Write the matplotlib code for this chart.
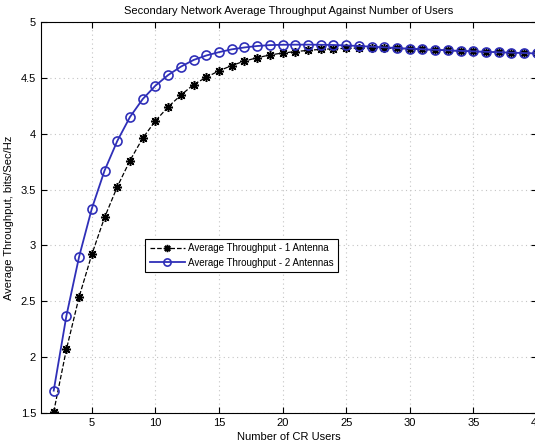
import matplotlib
matplotlib.use("Agg")
import matplotlib.pyplot as plt
from matplotlib.ticker import FormatStrFormatter

# Data
users = list(range(2, 41))
thr_1ant = [1.51, 2.07, 2.54, 2.92, 3.25, 3.525, 3.76, 3.96, 4.115, 4.24,
            4.345, 4.44, 4.505, 4.563, 4.61, 4.65, 4.68, 4.705, 4.722, 4.735,
            4.746, 4.755, 4.76, 4.764, 4.766, 4.767, 4.766, 4.763, 4.759, 4.755,
            4.75, 4.746, 4.741, 4.737, 4.733, 4.729, 4.725, 4.722, 4.718]
thr_2ant = [1.70, 2.37, 2.90, 3.33, 3.67, 3.935, 4.15, 4.31, 4.43, 4.525,
            4.60, 4.66, 4.70, 4.73, 4.755, 4.772, 4.785, 4.793, 4.796, 4.797,
            4.797, 4.796, 4.794, 4.79, 4.785, 4.779, 4.773, 4.767, 4.761, 4.756,
            4.751, 4.746, 4.741, 4.737, 4.733, 4.729, 4.725, 4.722, 4.718]
labels = ["Average Throughput - 1 Antenna", "Average Throughput - 2 Antennas"]

plt.rcParams['font.family'] = ['Liberation Sans', 'DejaVu Sans']
plt.rcParams['font.size'] = 8

fig = plt.figure(figsize=(5.35, 4.45), dpi=100)
ax = fig.add_axes([0.0766, 0.0719, 0.927, 0.8787])

# MATLAB style '*' marker: 8-arm asterisk
ax.plot(users, thr_1ant, color='black', linestyle='--', linewidth=0.9,
        marker=(8, 2, 0), markersize=6.5, markeredgewidth=1.1, label=labels[0])
ax.plot(users, thr_2ant, color='#2f2fb8', linestyle='-', linewidth=1.3,
        marker='o', markersize=6.5, markerfacecolor='none',
        markeredgewidth=1.2, label=labels[1])

ax.set_xlim(1, 40)
ax.set_ylim(1.5, 5)
ax.set_xticks(range(5, 41, 5))
ax.set_yticks([1.5, 2, 2.5, 3, 3.5, 4, 4.5, 5])
ax.yaxis.set_major_formatter(FormatStrFormatter('%g'))
ax.tick_params(direction='in', top=True, right=True, length=4, labelsize=8)
ax.grid(True, linestyle=(0, (1, 3)), color='#c4c4c4', linewidth=0.8)

ax.set_title("Secondary Network Average Throughput Against Number of Users",
             fontsize=8, pad=6)
ax.set_xlabel("Number of CR Users", fontsize=8, labelpad=3)
ax.set_ylabel("Average Throughput, bits/Sec/Hz", fontsize=8, labelpad=5)

leg = ax.legend(loc='upper left', bbox_to_anchor=(0.210, 0.445), fontsize=7,
                fancybox=False, framealpha=1, edgecolor='black',
                borderaxespad=0, handlelength=3.6, handletextpad=0.4,
                labelspacing=0.45, borderpad=0.45, markerscale=0.8)
leg.get_frame().set_linewidth(0.8)

fig.savefig("out.png", dpi=100)
